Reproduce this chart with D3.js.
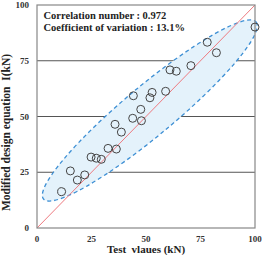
<!DOCTYPE html>
<html>
  <head>
    <meta charset="utf-8">
    <style>
      body { margin: 0; background: #fff; }
      svg text { font-family: "Liberation Serif", "Times New Roman", Times, serif; font-weight: bold; }
    </style>
  </head>
  <body>
    <svg id="chart" width="262" height="255"></svg>
    <script src="https://d3js.org/d3.v7.min.js"></script>
    <script>
      // test values and modified design equation values (kN)
      testValues = [11.3, 15.3, 18.5, 21.9, 24.8, 27.2, 29.5, 32.6, 36.4, 35.8, 38.7, 44.2,
                    43.9, 47.6, 47.9, 51.8, 52.8, 59.0, 61.0, 63.9, 70.6, 78.1, 82.3, 100.0]
      designValues = [16.3, 25.6, 21.5, 23.8, 31.8, 31.3, 30.8, 35.7, 35.4, 46.5, 43.0, 59.3,
                      49.2, 53.2, 48.1, 58.4, 60.8, 61.3, 70.9, 70.3, 72.8, 83.3, 78.6, 90.1]
      tickValues = [0, 25, 50, 75, 100]
      notes = ['Correlation number : 0.972', 'Coefficient of variation : 13.1%']
      // ends of the dashed confidence ellipse, in data units
      ellipseEnds = [[3.0, 13.0], [100.5, 92.4]]
      ellipseRatio = 0.18

      serif = '"Liberation Serif", "Times New Roman", Times, serif'
      width = 262
      height = 255
      margin = {top: 5, right: 7, bottom: 27, left: 37}

      xScale = d3.scaleLinear()
        .domain([0, 100])
        .range([margin.left, width - margin.right])
      yScale = d3.scaleLinear()
        .domain([0, 100])
        .range([height - margin.bottom, margin.top])

      const svg = d3.select('#chart')

      // horizontal grid lines
      svg.append('g')
        .selectAll('line')
        .data(tickValues.slice(1, -1))
        .join('line')
          .attr('x1', xScale(0))
          .attr('x2', xScale(100))
          .attr('y1', d => yScale(d))
          .attr('y2', d => yScale(d))
          .style('stroke', '#555')
          .style('stroke-width', 1)

      // ellipse
      const p0 = [xScale(ellipseEnds[0][0]), yScale(ellipseEnds[0][1])]
      const p1 = [xScale(ellipseEnds[1][0]), yScale(ellipseEnds[1][1])]
      const len = Math.hypot(p1[0] - p0[0], p1[1] - p0[1])
      const ang = Math.atan2(p1[1] - p0[1], p1[0] - p0[0]) * 180 / Math.PI
      svg.append('ellipse')
        .attr('transform', `translate(${(p0[0] + p1[0]) / 2},${(p0[1] + p1[1]) / 2}) rotate(${ang})`)
        .attr('rx', len / 2)
        .attr('ry', len / 2 * ellipseRatio)
        .style('fill', '#e4f2fb')
        .style('stroke', '#3d8fd4')
        .style('stroke-width', 1.3)
        .style('stroke-dasharray', '4,3')

      // 1:1 line
      svg.append('line')
        .attr('x1', xScale(0))
        .attr('y1', yScale(0))
        .attr('x2', xScale(100))
        .attr('y2', yScale(100))
        .style('stroke', '#ee7a80')
        .style('stroke-width', 1)

      // plot frame
      svg.append('rect')
        .attr('x', xScale(0))
        .attr('y', yScale(100))
        .attr('width', xScale(100) - xScale(0))
        .attr('height', yScale(0) - yScale(100))
        .style('fill', 'none')
        .style('stroke', '#888')
        .style('stroke-width', 1.2)

      // points
      svg.append('g')
        .selectAll('circle')
        .data(testValues)
        .join('circle')
          .attr('cx', d => xScale(d))
          .attr('cy', (d, i) => yScale(designValues[i]))
          .attr('r', 4)
          .style('fill', 'none')
          .style('stroke', '#444')
          .style('stroke-width', 1)

      // tick labels
      svg.append('g')
        .selectAll('text')
        .data(tickValues)
        .join('text')
          .attr('x', margin.left - 8)
          .attr('y', d => yScale(d) + 3)
          .attr('text-anchor', 'end')
          .attr('font-family', serif)
          .style('font-size', '9px')
          .style('fill', '#333')
          .text(d => d)
      svg.append('g')
        .selectAll('text')
        .data(tickValues)
        .join('text')
          .attr('x', d => xScale(d))
          .attr('y', yScale(0) + 14)
          .attr('text-anchor', 'middle')
          .attr('font-family', serif)
          .style('font-size', '9px')
          .style('fill', '#333')
          .text(d => d)

      // notes
      svg.append('g')
        .selectAll('text')
        .data(notes)
        .join('text')
          .attr('x', xScale(3))
          .attr('y', (d, i) => 19 + i * 12)
          .attr('font-family', serif)
          .style('font-size', '10.5px')
          .style('fill', '#222')
          .text(d => d)

      // axis titles
      svg.append('text')
        .attr('x', (xScale(0) + xScale(100)) / 2)
        .attr('y', height - 2)
        .attr('text-anchor', 'middle')
        .attr('xml:space', 'preserve')
        .attr('font-family', serif)
        .style('font-size', '11px')
        .style('fill', '#222')
        .text('Test  vlaues (kN)')
      svg.append('text')
        .attr('transform', `translate(10,${(yScale(0) + yScale(100)) / 2 + 16}) rotate(-90)`)
        .attr('text-anchor', 'middle')
        .attr('xml:space', 'preserve')
        .attr('font-family', serif)
        .style('font-size', '11.5px')
        .style('fill', '#222')
        .text('Modified design equation  I(kN)')
    </script>
  </body>
</html>
